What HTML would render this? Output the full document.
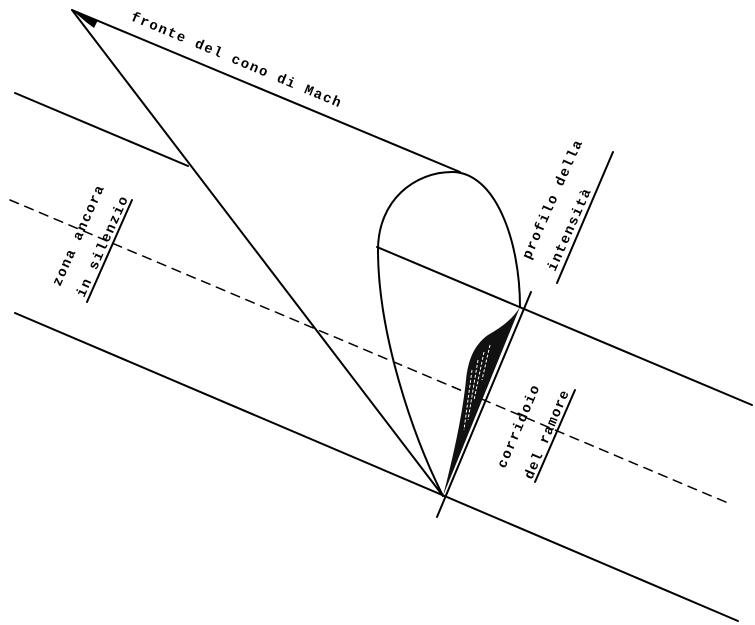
<!DOCTYPE html>
<html><head><meta charset="utf-8"><style>
html,body{margin:0;padding:0;background:#fff;}
svg{display:block;}
text{font-family:"Liberation Mono","DejaVu Sans Mono",monospace;font-size:14px;fill:#000;font-weight:bold;}
</style></head><body>
<svg width="755" height="625" viewBox="0 0 755 625" xmlns="http://www.w3.org/2000/svg">
<g stroke="#000" stroke-width="2" fill="none" stroke-linecap="round">
<line x1="72" y1="10" x2="460" y2="172"/>
<line x1="72" y1="10" x2="443" y2="496"/>
<line x1="15" y1="93" x2="188" y2="166"/>
<line x1="377" y1="247" x2="752" y2="405"/>
<line x1="15" y1="313" x2="738" y2="621"/>
<line x1="10" y1="200" x2="728" y2="503" stroke-width="1.5" stroke-dasharray="9,7"/>
<path d="M443,496 C410,430 378,330 378,250 C378,200 415,172 452,172 C495,172 520,240 520,307"/>
<line x1="531" y1="292" x2="437" y2="517"/>
<line x1="87" y1="302" x2="132" y2="200"/>
<line x1="557" y1="283" x2="613" y2="152"/>
<line x1="535" y1="482" x2="575" y2="390"/>
</g>
<polygon points="72,10 98,20 94,28 86,22" fill="#000"/>
<path d="M520,307 C512,320 500,328 488,335 C474,345 468,360 466,380 C463,410 455,450 443,496 Z" fill="#111"/>
<path d="M472,370 L464,430 M478,360 L468,420 M484,352 L474,400 M490,345 L482,380" stroke="#fff" stroke-width="1" stroke-dasharray="3,2"/>
<text transform="translate(130,20) rotate(22.7)" letter-spacing="1.5">fronte del cono di Mach</text>
<text transform="translate(60,287) rotate(-66)" letter-spacing="1.6">zona ancora</text>
<text transform="translate(84,298) rotate(-66)" letter-spacing="1.6">in silenzio</text>
<text transform="translate(530,260) rotate(-66)" letter-spacing="1.6">profilo della</text>
<text transform="translate(555,272) rotate(-66)" letter-spacing="1.6">intensità</text>
<text transform="translate(505,469) rotate(-67)" letter-spacing="1.6">corridoio</text>
<text transform="translate(532,480) rotate(-67)" letter-spacing="1.2">del ramore</text>
</svg>
</body></html>
